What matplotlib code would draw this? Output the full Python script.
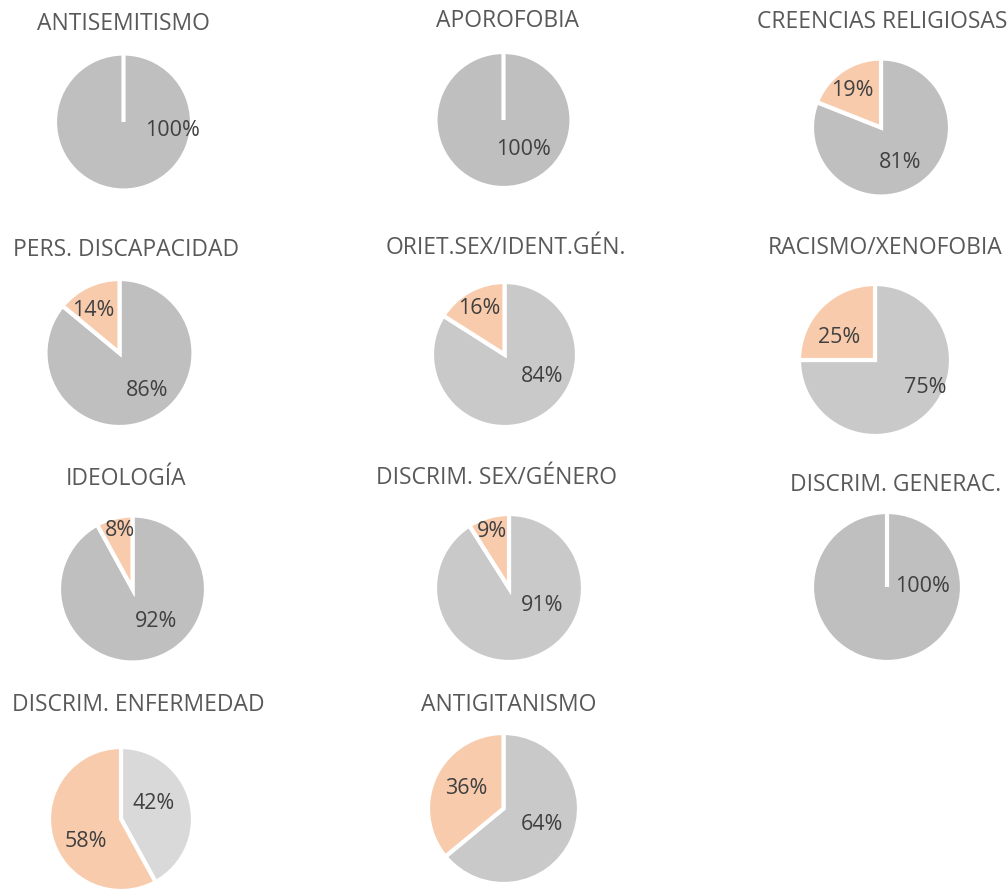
import matplotlib
matplotlib.use("Agg")
import matplotlib.pyplot as plt

# ---- data ----
titles = ["ANTISEMITISMO", "APOROFOBIA", "CREENCIAS RELIGIOSAS",
          "PERS. DISCAPACIDAD", "ORIET.SEX/IDENT.GÉN.", "RACISMO/XENOFOBIA",
          "IDEOLOGÍA", "DISCRIM. SEX/GÉNERO", "DISCRIM. GENERAC.",
          "DISCRIM. ENFERMEDAD", "ANTIGITANISMO"]
grey_share = [100, 100, 81, 86, 84, 75, 92, 91, 100, 42, 64]
orange_share = [0, 0, 19, 14, 16, 25, 8, 9, 0, 58, 36]

# ---- layout (pixels, y from top) ----
W, H = 1007, 890
centers = [(123.5, 122), (503.5, 120), (881, 127.5),
           (119.5, 353), (504.5, 354.5), (875, 360),
           (132.5, 589), (509, 588), (887, 587),
           (121, 819), (503.5, 808.5)]
radii = [68.5, 68, 69, 74, 72.5, 76, 73.5, 74, 75, 72, 75.5]
title_pos = [(123, 24), (508, 21), (882, 22),
             (126, 250), (506, 248), (885, 248),
             (126, 479), (497, 478), (896, 485),
             (138, 705), (509, 705)]
# label offsets in radius units (dx, dy up) for [grey, orange]
label_off = [[(0.72, -0.12)], [(0.30, -0.43)],
             [(0.28, -0.50), (-0.41, 0.54)],
             [(0.37, -0.50), (-0.36, 0.58)],
             [(0.52, -0.31), (-0.35, 0.63)],
             [(0.66, -0.36), (-0.47, 0.30)],
             [(0.32, -0.44), (-0.17, 0.79)],
             [(0.45, -0.24), (-0.23, 0.76)],
             [(0.47, 0.01)],
             [(0.46, 0.21), (-0.49, -0.31)],
             [(0.51, -0.21), (-0.50, 0.26)]]
grey_cols = ["#BFBFBF", "#BFBFBF", "#BFBFBF", "#BFBFBF", "#C9C9C9", "#C9C9C9",
             "#BFBFBF", "#C9C9C9", "#BFBFBF", "#D9D9D9", "#C9C9C9"]
orange_col = "#F8CBAD"

fig = plt.figure(figsize=(W / 100, H / 100), dpi=100)
ax = fig.add_axes([0, 0, 1, 1])

font = "Open Sans"
for i, t in enumerate(titles):
    vals = [grey_share[i], orange_share[i]]
    cols = [grey_cols[i], orange_col]
    cx, cy = centers[i]
    cy = H - cy
    r = radii[i]
    ax.pie(vals, colors=cols, startangle=90, counterclock=False,
           center=(cx, cy), radius=r, frame=True,
           wedgeprops=dict(edgecolor="white", linewidth=3.0))
    for j, v in enumerate(vals):
        if v == 0:
            continue
        dx, dy = label_off[i][j]
        ax.text(cx + dx * r, cy + dy * r, f"{v}%", ha="center", va="center",
                fontsize=15.5, color="#404040", family=font)
    tx, ty = title_pos[i]
    ax.text(tx, H - ty, t, ha="center", va="center", fontsize=16.5,
            color="#595959", family=font)

ax.set_xlim(0, W)
ax.set_ylim(0, H)
ax.set_aspect("equal")
ax.axis("off")
fig.savefig("out.png", dpi=100, facecolor="white")
